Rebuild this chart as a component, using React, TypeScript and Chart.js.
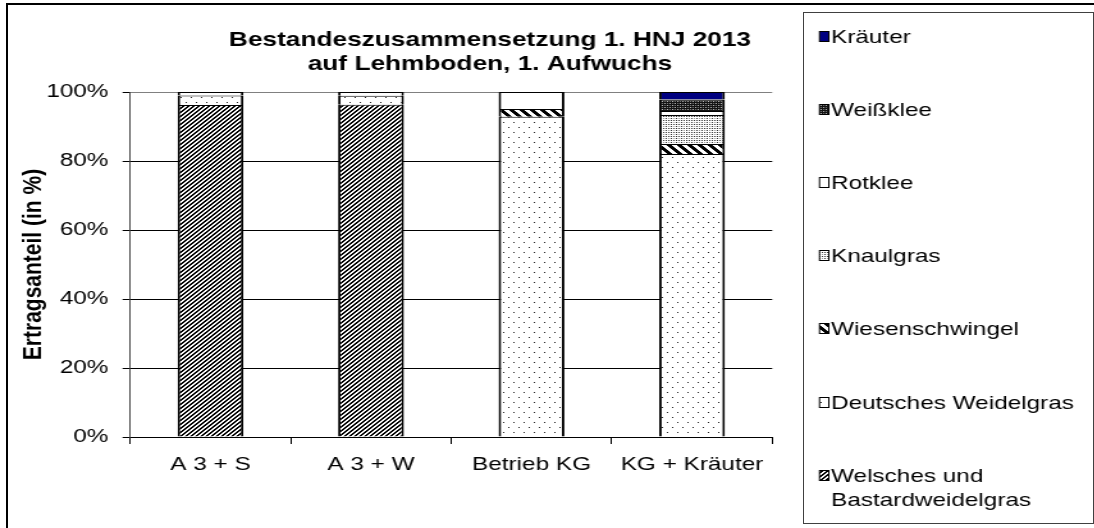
import React, { useEffect, useRef } from "react";
import { Chart, registerables } from "chart.js";

Chart.register(...registerables);

// ---------------- data ----------------
const categories = ["A 3 + S", "A 3 + W", "Betrieb KG", "KG + Kräuter"];
const seriesNames = [
  "Welsches und Bastardweidelgras",
  "Deutsches Weidelgras",
  "Wiesenschwingel",
  "Knaulgras",
  "Rotklee",
  "Weißklee",
  "Kräuter",
];
const welsches = [96.2, 96.3, 0, 0];
const deutsches = [2.8, 2.6, 92.8, 82.0];
const wiesenschwingel = [0, 0, 2.3, 2.9];
const knaulgras = [0, 0, 0, 8.4];
const rotklee = [1.0, 1.1, 4.9, 1.2];
const weissklee = [0, 0, 0, 3.3];
const kraeuter = [0, 0, 0, 2.2];
const yTicks = [0, 20, 40, 60, 80, 100];
const titleLines = ["Bestandeszusammensetzung 1. HNJ 2013", "auf Lehmboden, 1. Aufwuchs"];
const yAxisTitle = "Ertragsanteil (in %)";

// ---------------- layout ----------------
const SX = 1.28; // horizontal stretch of the whole picture
const W = 855;
const H = 528;
const FONT = '"Liberation Sans", Arial, Helvetica, sans-serif';
const px = (pageX: number) => pageX / SX;

export default function App() {
  const ref = useRef<HTMLCanvasElement>(null);

  useEffect(() => {
    const canvas = ref.current!;
    const ctx = canvas.getContext("2d")!;

    const pat = (w: number, h: number, draw: (c: CanvasRenderingContext2D) => void) => {
      const cv = document.createElement("canvas");
      cv.width = w;
      cv.height = h;
      const c = cv.getContext("2d")!;
      c.fillStyle = "#fff";
      c.fillRect(0, 0, w, h);
      draw(c);
      return ctx.createPattern(cv, "repeat")!;
    };
    const dot = (c: CanvasRenderingContext2D, x: number, y: number, col: string) => {
      c.fillStyle = col;
      c.fillRect(x, y, 1, 1);
    };

    const fills: (string | CanvasPattern)[] = [
      pat(4, 4, (c) => {
        for (let y = 0; y < 4; y++) for (let x = 0; x < 4; x++) if ((x + y) % 4 < 2) dot(c, x, y, "#000");
      }),
      pat(8, 10, (c) => {
        dot(c, 1, 2, "#222");
        dot(c, 5, 7, "#222");
      }),
      pat(8, 8, (c) => {
        for (let y = 0; y < 8; y++) for (let x = 0; x < 8; x++) if ((((x - y) % 8) + 8) % 8 < 4) dot(c, x, y, "#000");
      }),
      pat(4, 4, (c) => {
        dot(c, 0, 0, "#333");
        dot(c, 2, 0, "#333");
        dot(c, 0, 2, "#333");
        dot(c, 2, 2, "#999");
      }),
      "#ffffff",
      pat(4, 4, (c) => {
        c.fillStyle = "#111";
        c.fillRect(0, 0, 4, 4);
        dot(c, 1, 1, "#bbb");
        dot(c, 3, 1, "#777");
        dot(c, 1, 3, "#777");
        dot(c, 3, 3, "#bbb");
      }),
      "#000080",
    ];

    const seriesValues = [welsches, deutsches, wiesenschwingel, knaulgras, rotklee, weissklee, kraeuter];

    const titlePlugin = {
      id: "customTitle",
      afterDraw(chart: any) {
        const c = chart.ctx as CanvasRenderingContext2D;
        c.save();
        c.fillStyle = "#000";
        c.font = `bold 20.5px ${FONT}`;
        c.textAlign = "center";
        c.textBaseline = "alphabetic";
        titleLines.forEach((l, i) => c.fillText(l, px(490), 46 + i * 24));
        c.restore();
      },
    };

    const legendPlugin = {
      id: "customLegend",
      afterDraw(chart: any) {
        const c = chart.ctx as CanvasRenderingContext2D;
        c.save();
        c.font = `19px ${FONT}`;
        c.textAlign = "left";
        c.textBaseline = "alphabetic";
        const maxW = px(1088) - px(831);
        const dsets = chart.data.datasets;
        const order = dsets.map((_: any, i: number) => i).reverse();
        order.forEach((di: number, k: number) => {
          const ds = dsets[di];
          const base = 42.5 + k * 73.2;
          // swatch
          const sx = px(819.5);
          const sw = 7.3;
          const sy = Math.round(base - 12) + 0.5;
          c.fillStyle = ds.backgroundColor;
          c.fillRect(sx, sy, sw, 10);
          c.strokeStyle = "#000";
          c.lineWidth = 1;
          c.strokeRect(sx, sy, sw, 10);
          // wrapped text
          const words = String(ds.label).split(" ");
          const lines: string[] = [];
          let cur = "";
          words.forEach((w) => {
            const t = cur ? cur + " " + w : w;
            if (c.measureText(t).width > maxW && cur) {
              lines.push(cur);
              cur = w;
            } else cur = t;
          });
          if (cur) lines.push(cur);
          c.fillStyle = "#000";
          lines.forEach((l, li) => c.fillText(l, px(831), base + li * 24));
        });
        c.restore();
      },
    };

    const chart = new Chart(ctx, {
      type: "bar",
      data: {
        labels: categories,
        datasets: seriesNames.map((n, i) => ({
          label: n,
          data: seriesValues[i],
          backgroundColor: fills[i] as any,
          borderColor: "#000",
          borderWidth: { top: 1, left: 2, right: 2, bottom: 0 } as any,
          borderSkipped: false,
          barPercentage: 0.41,
          categoryPercentage: 1,
        })),
      },
      options: {
        responsive: false,
        animation: false,
        devicePixelRatio: 1,
        events: [],
        layout: { padding: { left: 0, right: W - px(772.25), top: 92, bottom: 51 } },
        plugins: {
          legend: { display: false },
          title: { display: false },
          tooltip: { enabled: false },
        },
        scales: {
          x: {
            stacked: true,
            grid: { offset: true, drawOnChartArea: false, drawTicks: true, tickLength: 7, color: "#000" },
            border: { color: "#000", width: 1 },
            ticks: { color: "#000", font: { size: 19, family: FONT }, padding: 9, maxRotation: 0, autoSkip: false },
            afterFit: (s: any) => {
              s.height = 40;
            },
          },
          y: {
            stacked: true,
            min: 0,
            max: 100,
            afterBuildTicks: (s: any) => {
              s.ticks = yTicks.map((v) => ({ value: v }));
            },
            ticks: {
              callback: (v: any) => `${v}%`,
              color: "#000",
              font: { size: 19, family: FONT },
              padding: 11,
            },
            grid: {
              color: (c: any) => (c.tick && c.tick.value === 100 ? "#808080" : "#000"),
              tickColor: "#000",
              tickLength: 6,
            },
            border: { color: "#404040", width: 1 },
            title: {
              display: true,
              text: yAxisTitle,
              color: "#000",
              font: { size: 21, weight: "bold", family: FONT },
              padding: { top: 13.2, bottom: 0 },
            },
            afterFit: (s: any) => {
              s.width = px(130.25);
            },
          },
        },
      },
      plugins: [titlePlugin, legendPlugin],
    });

    return () => chart.destroy();
  }, []);

  return (
    <div
      style={{
        position: "absolute",
        left: 0,
        top: 0,
        width: 1094,
        height: 528,
        overflow: "hidden",
        background: "#fff",
      }}
    >
      <div
        style={{
          position: "absolute",
          left: 6,
          top: 3,
          width: 1200,
          height: 600,
          borderLeft: "2px solid #000",
          borderTop: "2px solid #000",
        }}
      />
      <div
        style={{
          position: "absolute",
          left: 803,
          top: 12,
          width: 289,
          height: 510,
          border: "1px solid #404040",
        }}
      />
      <canvas
        ref={ref}
        width={W}
        height={H}
        style={{
          position: "absolute",
          left: 0,
          top: 0,
          width: W,
          height: H,
          transform: `scaleX(${SX})`,
          transformOrigin: "0 0",
        }}
      />
    </div>
  );
}
